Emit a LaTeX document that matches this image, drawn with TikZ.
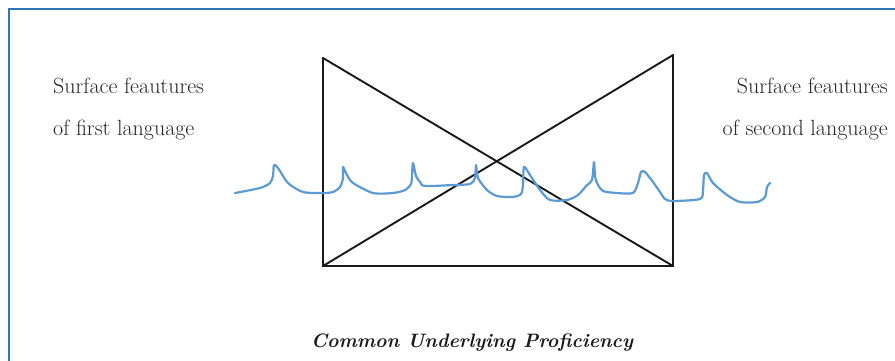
\documentclass[tikz,border=0pt]{standalone}
\usetikzlibrary{calc}
\definecolor{frameblue}{HTML}{2E75B6}
\definecolor{waveblue}{HTML}{5B9BD5}
\definecolor{txtgray}{HTML}{262626}
\begin{document}
\begin{tikzpicture}[x=1pt,y=-1pt,
  lbl/.style={inner sep=0pt, text=txtgray, font=\fontsize{22}{26}\selectfont},
  ttl/.style={inner sep=0pt, text=black!90, font=\fontsize{19.4}{22}\selectfont\bfseries\itshape},
  edge/.style={draw=black!90, line width=1.9pt, line cap=round},
  wave/.style={draw=waveblue, line width=2.2pt, line cap=round, line join=round}]
\useasboundingbox (0,0) rectangle (895,360);
\draw[frameblue, line width=2.6pt] (900,9) -- (9,9) -- (9,365);
% shape corners
\coordinate (tl) at (323,58);
\coordinate (tr) at (673,55);
\coordinate (bl) at (323,266);
\coordinate (br) at (673,266);
\draw[edge] (tl) -- (bl);
\draw[edge] (tr) -- (br);
\draw[edge] (tl) -- (br);
\draw[edge] (bl) -- (tr);
\draw[edge, line width=2.8pt] (bl) -- (br);
% wave
\draw[wave] plot[smooth, tension=0.45] coordinates {
(235,193) (260,188) (270,183) (273,176) (274,165) (278,168) (288,183) (303,192) (323,193) (333,192) (340,187) (343,178) (343,167) (347,175) (353,183) (373,193) (393,193) (405,190) (411,184) (412,175) (413,163) (416,176) (420,182) (425,186) (453,185) (470,184) (475,178) (476,165) (478,178) (487,190) (497,196) (513,197) (521,194) (523,185) (524,167) (530,175) (540,190) (550,200) (567,200) (578,195) (587,185) (592,180) (594,162) (595,176) (597,183) (603,191) (617,193) (633,193) (638,183) (641,172) (645,172) (653,182) (660,192) (665,199) (673,201) (700,199) (703,190) (704,175) (707,173) (713,183) (727,195) (740,202) (757,202) (765,197) (767,187) (770,183)};
% labels
\node[lbl, anchor=base west] (l1) at (53,93) {Surface feautures};
\node[lbl, anchor=base west] (l2) at (53,135) {of first language};
\node[lbl, anchor=base east] (r1) at (888,93) {Surface feautures};
\node[lbl, anchor=base east] (r2) at (888,135) {of second language};
\node[ttl, anchor=base] (cup) at (472,347) {Common Underlying Proficiency};
\end{tikzpicture}
\end{document}
